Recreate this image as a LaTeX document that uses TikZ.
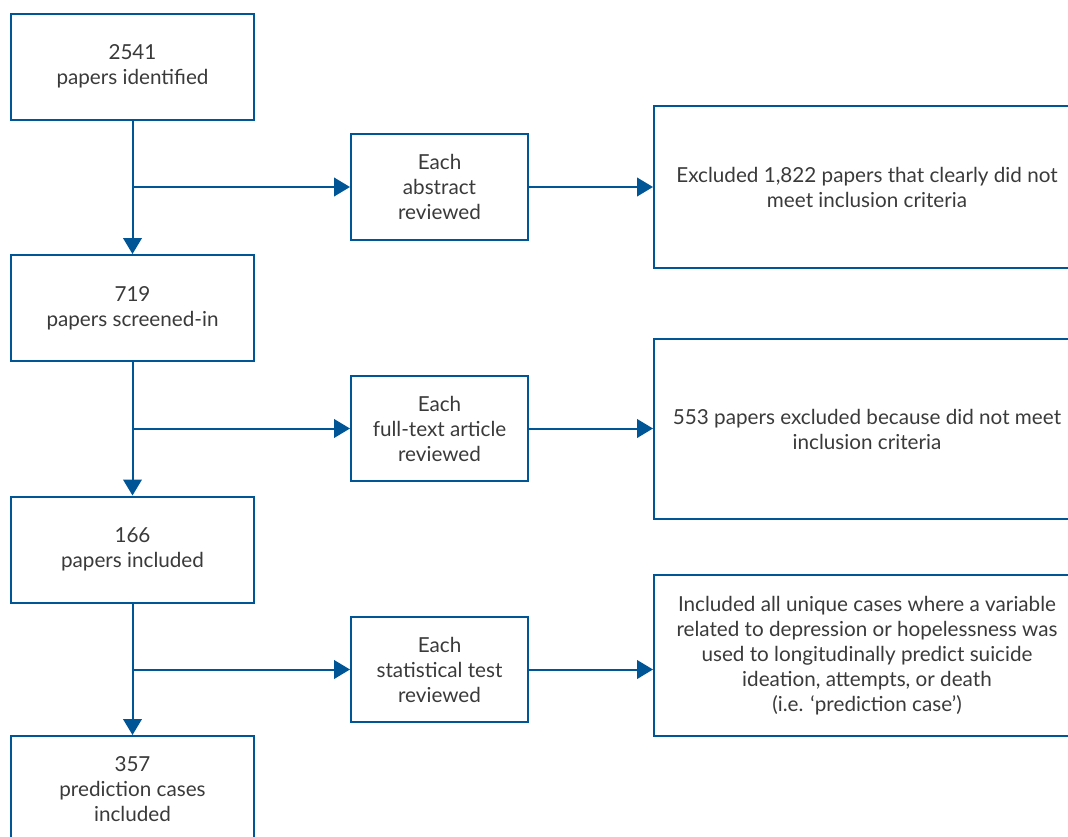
\documentclass[tikz,border=0pt]{standalone}
\usepackage{fontspec}
\setmainfont{Lato}
\usetikzlibrary{arrows.meta}
\definecolor{flowblue}{HTML}{005596}
\definecolor{textgrey}{HTML}{3A3A3A}
\tikzset{
  box/.style={draw=flowblue, line width=1.5pt, inner sep=0pt, align=center},
  leftbox/.style={box, minimum width=182.25pt, minimum height=79.5pt},
  midbox/.style={box, minimum width=132.75pt, minimum height=79pt},
  flow/.style={draw=flowblue, line width=1.5pt, -{Triangle[length=12pt,width=14pt]}}
}

\begin{document}
\begin{tikzpicture}[x=0.75pt, y=-0.75pt,
    every node/.style={font=\fontsize{15.5}{18.75}\selectfont, text=textgrey}]
  \useasboundingbox (0,0) rectangle (1068,836);
  \clip (0,0) rectangle (1068,836);
  % main column
  \node[leftbox] (ident) at (132.5,66.5) {2541\\papers identified};
  \node[leftbox] (screen) at (132.5,308) {719\\papers screened-in};
  \node[leftbox] (incl) at (132.5,549.5) {166\\papers included};
  \node[leftbox] (cases) at (132.5,789) {357\\prediction cases\\included};
  % review steps
  \node[midbox] (abstr) at (439.5,187) {Each\\abstract\\reviewed};
  \node[midbox] (fulltext) at (439.5,428.5) {Each\\full-text article\\reviewed};
  \node[midbox] (stattest) at (439.5,669.5) {Each\\statistical test\\reviewed};
  % outcomes
  \node[box, minimum width=319.5pt, minimum height=121.5pt] (excl1) at (867,187)
    {Excluded 1,822 papers that clearly did not\\meet inclusion criteria};
  \node[box, minimum width=319.5pt, minimum height=135pt] (excl2) at (867,429)
    {553 papers excluded because did not meet\\inclusion criteria};
  \node[box, minimum width=319.5pt, minimum height=120.75pt] (keep) at (867,655.5)
    {Included all unique cases where a variable\\related to depression or hopelessness was\\used to longitudinally predict suicide\\ideation, attempts, or death\\(i.e. ‘prediction case’)};
  % connectors
  \coordinate (split1) at (ident.south |- abstr.west);
  \coordinate (split2) at (screen.south |- fulltext.west);
  \coordinate (split3) at (incl.south |- stattest.west);
  \draw[flow] (ident.south) -- (screen.north);
  \draw[flow] (screen.south) -- (incl.north);
  \draw[flow] (incl.south) -- (cases.north);
  \draw[flow] (split1) -- (abstr.west);
  \draw[flow] (split2) -- (fulltext.west);
  \draw[flow] (split3) -- (stattest.west);
  \draw[flow] (abstr.east) -- (abstr.east -| excl1.west);
  \draw[flow] (fulltext.east) -- (fulltext.east -| excl2.west);
  \draw[flow] (stattest.east) -- (stattest.east -| keep.west);
\end{tikzpicture}
\end{document}
